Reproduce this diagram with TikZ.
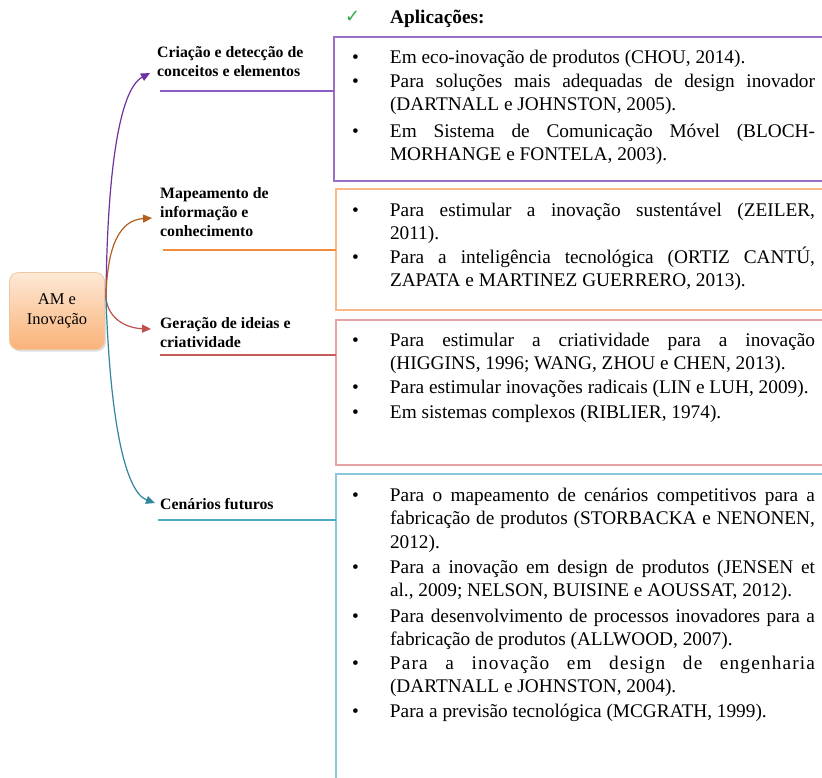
\documentclass[tikz,border=0pt]{standalone}
\usepackage{fontspec}
\setmainfont{Liberation Serif}
\newfontfamily\symfont{DejaVu Sans}
\usetikzlibrary{arrows.meta,shadows}
\definecolor{pcurve}{HTML}{7030A0}
\definecolor{pline}{HTML}{8E5CC4}
\definecolor{pbox}{HTML}{9B6FC8}
\definecolor{ocurve}{HTML}{B45F1E}
\definecolor{oline}{HTML}{F38B3C}
\definecolor{obox}{HTML}{F8B888}
\definecolor{rcurve}{HTML}{C0504D}
\definecolor{rline}{HTML}{C85A5A}
\definecolor{rbox}{HTML}{E6A3A3}
\definecolor{bcurve}{HTML}{31859C}
\definecolor{bline}{HTML}{4BACC6}
\definecolor{bbox}{HTML}{8CC6DA}
\definecolor{chk}{HTML}{2EAA4A}
\newcommand\bodyfont{\fontsize{19.3}{23.5}\selectfont}
\newcommand\jl[1]{\hbox to 425pt{#1}}
\newcommand\fl[1]{\hbox{#1}}
\newcommand\bl{\llap{\hbox to 38pt{\textbullet\hfil}}}
\newcommand\pr[1]{\vtop{\bodyfont\baselineskip=23.5pt #1}}
\newcommand\lb[1]{\vtop{\baselineskip=19.4pt #1}}
\tikzset{
  para/.style={anchor=base west, inner sep=0pt, outer sep=0pt},
  lab/.style={anchor=base west, inner sep=0pt, font=\bfseries\fontsize{15.8}{19.4}\selectfont},
  curv/.style={line width=1.2pt, -{Triangle[length=9pt,width=8pt]}},
  hl/.style={line width=1.5pt},
  bx/.style={line width=1.5pt},
}
\begin{document}
\begin{tikzpicture}[x=1pt,y=-1pt]
\useasboundingbox (0,0) rectangle (822,777);
\fill[white] (0,0) rectangle (822,777);
\clip (0,0) rectangle (822,777);

% central node
\node[draw={rgb,255:red,236;green,200;blue,160}, line width=0.8pt, rounded corners=9pt,
      top color={rgb,255:red,253;green,233;blue,214}, bottom color={rgb,255:red,250;green,178;blue,120},
      drop shadow={opacity=0.25,shadow xshift=1.5pt,shadow yshift=-2pt},
      minimum width=95pt, minimum height=77pt, align=center,
      font=\fontsize{16.5}{19.5}\selectfont] (c) at (57,311) {AM e\\Inovação};
\coordinate (o) at (106,298);

% heading
\node[anchor=base west, inner sep=0pt, text=chk, font=\symfont\fontsize{18}{20}\selectfont] (chk) at (345,22) {✓};
\node[anchor=base west, inner sep=0pt, font=\bfseries\fontsize{19.3}{23}\selectfont] (apl) at (390,23) {Aplicações:};

% boxes
\draw[bx, pbox] (830,37) -- (334,37) -- (334,181) -- (830,181);
\draw[bx, obox] (830,189) -- (336,189) -- (336,310) -- (830,310);
\draw[bx, rbox] (830,320) -- (336,320) -- (336,465) -- (830,465);
\draw[bx, bbox] (830,474) -- (336,474) -- (336,790);
\coordinate (b1) at (334,91);
\coordinate (b2) at (336,250);
\coordinate (b3) at (336,355);
\coordinate (b4) at (336,520);

% labels
\node[lab] (l1) at (157,57) {\lb{\hbox{Criação e detecção de}\hbox{conceitos e elementos}}};
\node[lab] (l2) at (160,198) {\lb{\hbox{Mapeamento de}\hbox{informação e}\hbox{conhecimento}}};
\node[lab] (l3) at (160,328) {\lb{\hbox{Geração de ideias e}\hbox{criatividade}}};
\node[lab] (l4) at (160,509) {Cenários futuros};

\coordinate (t1) at (150,73);
\coordinate (t2) at (152,218);
\coordinate (t3) at (151,329);
\coordinate (t4) at (155,503);

% horizontal lines
\coordinate (h1) at (160,91);
\coordinate (h2) at (163,250);
\coordinate (h3) at (160,355);
\coordinate (h4) at (158,520);
\draw[hl, pline] (h1) -- (b1);
\draw[hl, oline] (h2) -- (b2);
\draw[hl, rline] (h3) -- (b3);
\draw[hl, bline] (h4) -- (b4);

% curves
\draw[curv, pcurve] (o) .. controls (107,180) and (118,90) .. (t1);
\draw[curv, ocurve] (o) .. controls (107,245) and (120,220) .. (t2);
\draw[curv, rcurve] (o) .. controls (108,318) and (125,328) .. (t3);
\draw[curv, bcurve] (o) .. controls (110,420) and (125,492) .. (t4);

% box 1
\node[para] (p11) at (390,63) {\pr{\fl{\bl Em eco-inovação de produtos (CHOU, 2014).}}};
\node[para] (p12) at (390,87) {\pr{\jl{\bl Para soluções mais adequadas de design inovador}\fl{(DARTNALL e JOHNSTON, 2005).}}};
\node[para] (p13) at (390,137) {\pr{\jl{\bl Em Sistema de Comunicação Móvel (BLOCH-}\fl{MORHANGE e FONTELA, 2003).}}};

% box 2
\node[para] (p21) at (390,216) {\pr{\jl{\bl Para estimular a inovação sustentável (ZEILER,}\fl{2011).}}};
\node[para] (p22) at (390,263) {\pr{\jl{\bl Para a inteligência tecnológica (ORTIZ CANTÚ,}\fl{ZAPATA e MARTINEZ GUERRERO, 2013).}}};

% box 3
\node[para] (p31) at (390,346) {\pr{\jl{\bl Para estimular a criatividade para a inovação}\fl{(HIGGINS, 1996; WANG, ZHOU e CHEN, 2013).}}};
\node[para] (p32) at (390,393) {\pr{\fl{\bl Para estimular inovações radicais (LIN e LUH, 2009).}}};
\node[para] (p33) at (390,418) {\pr{\fl{\bl Em sistemas complexos (RIBLIER, 1974).}}};

% box 4
\node[para] (p41) at (390,501) {\pr{\jl{\bl Para o mapeamento de cenários competitivos para a}\jl{fabricação de produtos (STORBACKA e NENONEN,}\fl{2012).}}};
\node[para] (p42) at (390,573) {\pr{\jl{\bl Para a inovação em design de produtos (JENSEN et}\fl{al., 2009; NELSON, BUISINE e AOUSSAT, 2012).}}};
\node[para] (p43) at (390,622) {\pr{\jl{\bl Para desenvolvimento de processos inovadores para a}\fl{fabricação de produtos (ALLWOOD, 2007).}}};
\node[para] (p44) at (390,669) {\pr{\jl{\bl {\addfontfeatures{LetterSpace=6}Para a inovação em design de engenharia}}\fl{(DARTNALL e JOHNSTON, 2004).}}};
\node[para] (p45) at (390,717) {\pr{\fl{\bl Para a previsão tecnológica (MCGRATH, 1999).}}};
\end{tikzpicture}
\end{document}
